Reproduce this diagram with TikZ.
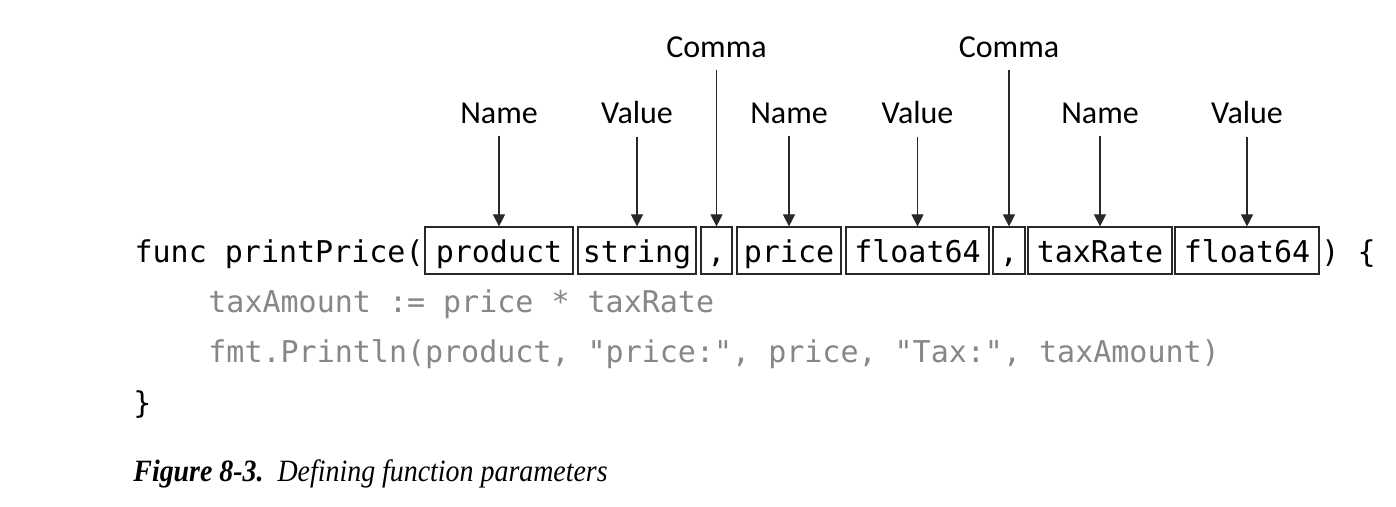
\documentclass[tikz,border=0pt]{standalone}
\usepackage{fontspec}
\setmainfont{Liberation Serif}
\setsansfont{Carlito}
\setmonofont{DejaVu Sans Mono}
\usetikzlibrary{arrows.meta}
\definecolor{codegray}{RGB}{135,135,135}
\definecolor{boxline}{RGB}{40,40,40}

\begin{document}
\begin{tikzpicture}[x=0.5pt,y=-0.5pt]
\tikzstyle{every node}+=[inner sep=0pt]
\tikzstyle{code}=[font=\fontsize{15}{18}\ttfamily, anchor=base west]
\tikzstyle{parm}=[draw=boxline, line width=0.6pt, minimum height=23.5pt, text height=16pt, text depth=3.5pt, font=\fontsize{15}{18}\ttfamily]
\tikzstyle{tag}=[font=\fontsize{16}{19}\sffamily]
\tikzstyle{pointer}=[boxline, line width=0.6pt, -{Triangle[length=6pt,width=6pt]}, shorten <=6pt]
\fill [white] (0,0) rectangle (1396,507);
\useasboundingbox (0,0) rectangle (1396,507);
\node [code, anchor=base east] (head) at (424,263) {func printPrice(};
\node [parm, minimum width=74pt] (p1) at (499,250.5) {product\ };
\node [parm, minimum width=59pt] (v1) at (637,250.5) {string};
\node [parm, minimum width=15.5pt] (c1) at (716.5,250.5) {,};
\node [parm, minimum width=52pt] (p2) at (789,250.5) {price};
\node [parm, minimum width=71.5pt] (v2) at (917.5,250.5) {float64};
\node [parm, minimum width=16pt] (c2) at (1009,250.5) {,};
\node [parm, minimum width=72pt] (p3) at (1100,250.5) {taxRate};
\node [parm, minimum width=72pt] (v3) at (1247,250.5) {float64};
\node [code] (tail) at (1321,263) {) \{};
\node [code, codegray] (body1) at (208,313) {taxAmount := price * taxRate};
\node [code, codegray] (body2) at (208,363) {fmt.Println(product, "price:", price, "Tax:", taxAmount)};
\node [code] (close) at (133,413) {\}};
\node [tag] (tp1) at (499,113) {Name};
\node [tag] (tv1) at (637,113) {Value};
\node [tag] (tc1) at (716.5,47) {Comma};
\node [tag] (tp2) at (789,113) {Name};
\node [tag] (tv2) at (917.5,113) {Value};
\node [tag] (tc2) at (1009,47) {Comma};
\node [tag] (tp3) at (1100,113) {Name};
\node [tag] (tv3) at (1247,113) {Value};
\draw [pointer] (tp1.south) -- (p1.north);
\draw [pointer] (tv1.south) -- (v1.north);
\draw [pointer] (tc1.south) -- (c1.north);
\draw [pointer] (tp2.south) -- (p2.north);
\draw [pointer] (tv2.south) -- (v2.north);
\draw [pointer] (tc2.south) -- (c2.north);
\draw [pointer] (tp3.south) -- (p3.north);
\draw [pointer] (tv3.south) -- (v3.north);
\node [anchor=base west, font=\fontsize{15.5}{18}\selectfont] (caption) at (133,481) {\scalebox{0.9}[1]{\textbf{\textit{Figure 8-3.}}\ \ \textit{Defining function parameters}}};
\end{tikzpicture}
\end{document}
